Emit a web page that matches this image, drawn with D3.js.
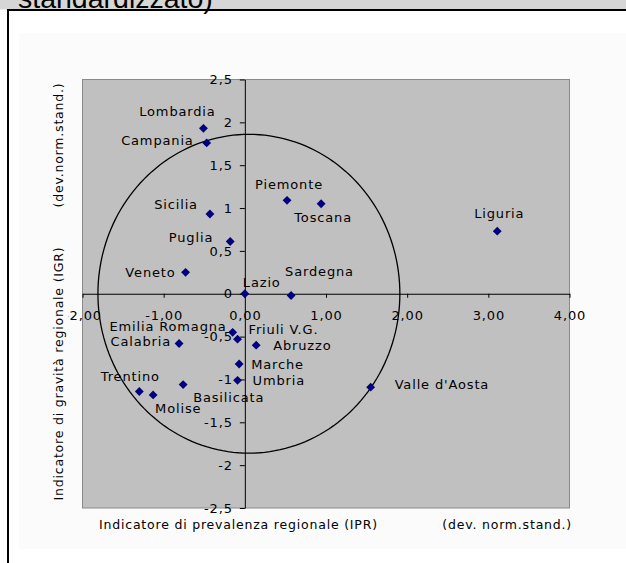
<!DOCTYPE html>
<html>
<head>
<meta charset="utf-8">
<script src="https://cdn.jsdelivr.net/npm/d3@7"></script>
<style>
  html, body { margin: 0; padding: 0; background: #ffffff; }
  svg { display: block; }
</style>
</head>
<body>
<svg id="chart" width="626" height="563"></svg>
<script>
// ---------------- data ----------------
const regions = ["Lombardia","Campania","Piemonte","Toscana","Sicilia","Puglia","Veneto","Lazio","Sardegna","Liguria",
                 "Emilia Romagna","Friuli V.G.","Calabria","Abruzzo","Marche","Umbria","Basilicata","Trentino","Molise","Valle d'Aosta"];
const ipr = [-0.51,-0.47,0.52,0.94,-0.43,-0.18,-0.73,0.00,0.57,3.11,
             -0.15,-0.09,-0.81,0.14,-0.07,-0.09,-0.76,-1.30,-1.13,1.55];
const igr = [1.93,1.76,1.09,1.05,0.93,0.61,0.25,0.00,-0.02,0.73,
             -0.45,-0.53,-0.58,-0.60,-0.82,-1.01,-1.06,-1.14,-1.18,-1.09];
const xTicks = [-2,-1,0,1,2,3,4];
const xTickLabels = ["-2,00","-1,00","0,00","1,00","2,00","3,00","4,00"];
const yTicks = [-2.5,-2,-1.5,-1,-0.5,0,0.5,1,1.5,2,2.5];
const yTickLabels = ["-2,5","-2","-1,5","-1","-0,5","0","0,5","1","1,5","2","2,5"];
const circleCenter = [0.05, 0];
const circleRadius = 1.86;
const headerText = "standardizzato)";
const xTitle = "Indicatore di prevalenza regionale (IPR)";
const xUnit = "(dev. norm.stand.)";
const yTitle = "Indicatore di gravità regionale (IGR)";
const yUnit = "(dev.norm.stand.)";

// ---------------- layout / style ----------------
const labelPlacement = {
  "Lombardia": ["middle", -26, -17], "Campania": ["end", -13, -3], "Piemonte": ["middle", 2, -16],
  "Toscana": ["middle", 2, 14], "Sicilia": ["end", -12, -10], "Puglia": ["end", -17, -4],
  "Veneto": ["end", -10, 0], "Lazio": ["start", -2, -11], "Sardegna": ["start", -6, -24],
  "Liguria": ["middle", 2, -18], "Emilia Romagna": ["end", -6, -6], "Friuli V.G.": ["start", 11, -10],
  "Calabria": ["end", -8, -2], "Abruzzo": ["start", 17, 0], "Marche": ["start", 12, 0],
  "Umbria": ["start", 15, 0], "Basilicata": ["start", 10, 13], "Trentino": ["middle", -9, -15],
  "Molise": ["start", 2, 13], "Valle d'Aosta": ["start", 24, -3]
};
const FONT = "DejaVu Sans, Verdana, sans-serif";
const FS = 13, LS = 0.85;
const plot = { left: 82.5, right: 569.5, top: 79.5, bottom: 508 };

const svg = d3.select("#chart");

// header band & frame
svg.append("rect").attr("x", 0).attr("y", 0).attr("width", 626).attr("height", 9.5).attr("fill", "#d6d6d6");
svg.append("text").attr("x", 18).attr("y", 7.5).attr("font-family", "Liberation Sans, Arial, sans-serif")
   .attr("font-size", 28.5).attr("fill", "#000").text(headerText);
svg.append("rect").attr("x", 19).attr("y", 33).attr("width", 620).attr("height", 516).attr("fill", "#fbfbfb");
svg.append("line").attr("x1", 7).attr("x2", 626).attr("y1", 10).attr("y2", 10).attr("stroke", "#000").attr("stroke-width", 2);
svg.append("line").attr("x1", 8).attr("x2", 8).attr("y1", 9).attr("y2", 563).attr("stroke", "#000").attr("stroke-width", 2);

// scales
const x = d3.scaleLinear().domain([-2, 4]).range([plot.left, plot.right]);
const y = d3.scaleLinear().domain([-2.5, 2.5]).range([plot.bottom, plot.top]);

// plot area
svg.append("rect").attr("x", plot.left).attr("y", plot.top)
   .attr("width", plot.right - plot.left).attr("height", plot.bottom - plot.top)
   .attr("fill", "#c0c0c0").attr("stroke", "#8a8a8a").attr("stroke-width", 1);

// x axis
const gx = svg.append("g").attr("transform", `translate(0,${y(0)})`)
  .call(d3.axisBottom(x).tickValues(xTicks).tickFormat((d, i) => xTickLabels[i]).tickSize(4).tickSizeOuter(0));
gx.select(".domain").attr("stroke", "#000");
gx.selectAll(".tick line").attr("stroke", "#000");
gx.selectAll(".tick text").attr("y", 21.5).attr("dy", "0.36em")
  .attr("font-family", FONT).attr("font-size", FS).attr("letter-spacing", LS).attr("fill", "#000");

// y axis
const gy = svg.append("g").attr("transform", `translate(${x(0)},0)`)
  .call(d3.axisLeft(y).tickValues(yTicks).tickFormat((d, i) => yTickLabels[i]).tickSize(5).tickPadding(7).tickSizeOuter(0));
gy.select(".domain").attr("stroke", "#000");
gy.selectAll(".tick line").attr("stroke", "#000");
gy.selectAll(".tick text").attr("font-family", FONT).attr("font-size", FS).attr("letter-spacing", LS).attr("fill", "#000");

// circle (drawn in data space)
const circlePts = d3.range(0, 361, 2).map(a => {
  const t = a * Math.PI / 180;
  return [x(circleCenter[0] + circleRadius * Math.cos(t)), y(circleCenter[1] + circleRadius * Math.sin(t))];
});
svg.append("path").attr("d", d3.line()(circlePts)).attr("fill", "none").attr("stroke", "#000").attr("stroke-width", 1.3);

// markers
const pts = regions.map((r, i) => ({ name: r, x: ipr[i], y: igr[i] }));
svg.append("g").selectAll("path").data(pts).join("path")
  .attr("transform", d => `translate(${x(d.x)},${y(d.y)})`)
  .attr("d", d3.symbol().type(d3.symbolDiamond2).size(50))
  .attr("fill", "#000080");

// labels
svg.append("g").selectAll("text").data(pts).join("text")
  .attr("x", d => x(d.x) + labelPlacement[d.name][1])
  .attr("y", d => y(d.y) + labelPlacement[d.name][2])
  .attr("dy", "0.36em")
  .attr("text-anchor", d => labelPlacement[d.name][0])
  .attr("font-family", FONT).attr("font-size", FS).attr("letter-spacing", LS).attr("fill", "#000")
  .text(d => d.name);

// axis titles
svg.append("text").attr("x", 99).attr("y", 524).attr("dy", "0.36em")
  .attr("font-family", FONT).attr("font-size", 12.5).attr("letter-spacing", 0.8).attr("fill", "#000").text(xTitle);
svg.append("text").attr("x", 572).attr("y", 524).attr("dy", "0.36em").attr("text-anchor", "end")
  .attr("font-family", FONT).attr("font-size", 12.5).attr("letter-spacing", 0.8).attr("fill", "#000").text(xUnit);

svg.append("rect").attr("x", 47).attr("y", 240).attr("width", 21).attr("height", 267).attr("fill", "#fbfbfb");
svg.append("text").attr("transform", "translate(58,373.5) rotate(-90)").attr("dy", "0.36em").attr("text-anchor", "middle")
  .attr("font-family", FONT).attr("font-size", 12.5).attr("letter-spacing", 0.8).attr("fill", "#000").text(yTitle);
svg.append("text").attr("transform", "translate(58,145) rotate(-90)").attr("dy", "0.36em").attr("text-anchor", "middle")
  .attr("font-family", FONT).attr("font-size", 12.5).attr("letter-spacing", 0.8).attr("fill", "#000").text(yUnit);
</script>
</body>
</html>
